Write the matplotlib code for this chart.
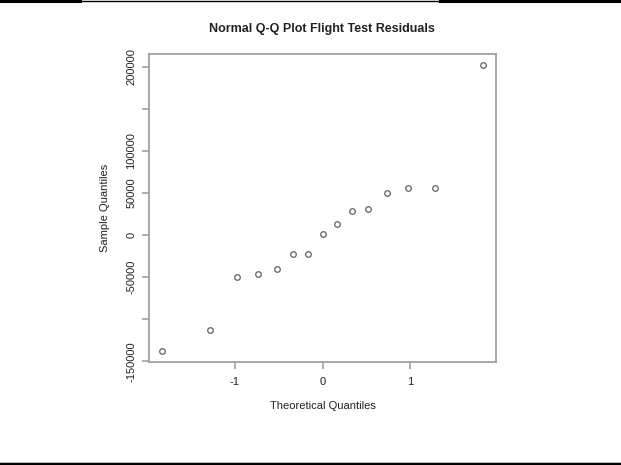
import numpy as np
import matplotlib.pyplot as plt
from matplotlib.lines import Line2D

plt.rcParams['font.family'] = ['Liberation Sans', 'DejaVu Sans']

# theoretical normal quantiles and sorted residuals
theoretical = [-1.83, -1.28, -0.97, -0.73, -0.52, -0.34, -0.17, 0.0,
               0.17, 0.34, 0.52, 0.73, 0.97, 1.28, 1.83]
residuals = [-137200, -113200, -50100, -45700, -40600, -22500, -22500, 800,
             12600, 28400, 30400, 50500, 56000, 56000, 201500]

yticks = [-150000, -100000, -50000, 0, 50000, 100000, 150000, 200000]
ytick_labels = ["-150000", "", "-50000", "0", "50000", "100000", "", "200000"]
xticks = [-1, 0, 1]

W, H = 621, 465
fig = plt.figure(figsize=(W / 100, H / 100), dpi=100)
ax = fig.add_axes([149 / W, 1 - 362 / H, 347 / W, 308 / H])

gray = "#a0a0a0"
txt = "#222222"

ax.plot(theoretical, residuals, linestyle="none", marker="o", markersize=4.0,
        markerfacecolor="none", markeredgecolor="#606060", markeredgewidth=0.9)

# R style 4% padding
def pad(v):
    lo, hi = min(v), max(v)
    d = (hi - lo) * 0.04
    return lo - d, hi + d

ax.set_xlim(*pad(theoretical))
ax.set_ylim(*pad(residuals))

ax.set_xticks(xticks)
ax.set_xticklabels([str(t) for t in xticks])
ax.set_yticks(yticks)
ax.set_yticklabels(ytick_labels, rotation=90, va="center")

for s in ax.spines.values():
    s.set_color(gray)
    s.set_linewidth(1.3)
ax.tick_params(axis="both", colors=gray, length=5, width=1.2, labelsize=8,
               labelcolor=txt)
ax.tick_params(axis="x", pad=6)
ax.tick_params(axis="y", pad=4)

ax.set_xlabel("Theoretical Quantiles", fontsize=8, color=txt, labelpad=10)
ax.set_ylabel("Sample Quantiles", fontsize=8, color=txt, labelpad=12)
fig.text(322 / W, 1 - 29 / H, "Normal Q-Q Plot Flight Test Residuals",
         ha="center", va="center", fontsize=9, fontweight="bold", color=txt)

# page rules at the top and bottom
fig.add_artist(Line2D([0, 80 / W], [1 - 1 / H, 1 - 1 / H], color="black", lw=2.2))
fig.add_artist(Line2D([440 / W, 1], [1 - 1 / H, 1 - 1 / H], color="black", lw=2.2))
fig.add_artist(Line2D([80 / W, 440 / W], [1 - 1 / H, 1 - 1 / H], color="black", lw=1.0))
fig.add_artist(Line2D([0, 1], [1.5 / H, 1.5 / H], color="black", lw=2.5))

fig.savefig("out.png", dpi=100)
